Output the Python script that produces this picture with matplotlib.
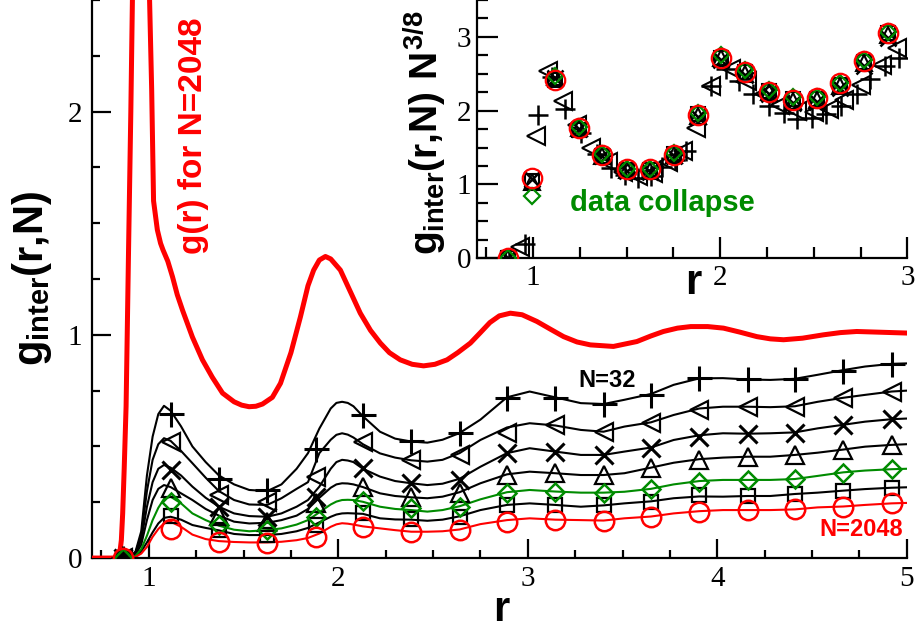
import matplotlib
matplotlib.use("Agg")
import matplotlib.pyplot as plt
from matplotlib.ticker import MultipleLocator

plt.rcParams['mathtext.fontset'] = 'custom'
plt.rcParams['mathtext.rm'] = 'Liberation Sans:bold'
plt.rcParams['mathtext.it'] = 'Liberation Sans:bold'
plt.rcParams['mathtext.bf'] = 'Liberation Sans:bold'

RED = '#ff0000'
GREEN = '#008b00'

# full g(r) for N=2048
r_g = [0.70, 0.82, 0.845, 0.855, 0.862, 0.87, 0.88, 0.893, 0.905, 0.915, 0.93, 0.95,
       0.97, 0.99, 1.004, 1.015, 1.025, 1.045, 1.062, 1.075, 1.10, 1.125, 1.15, 1.178,
       1.23, 1.283, 1.335, 1.389, 1.45, 1.49, 1.529, 1.565, 1.60, 1.652, 1.695, 1.75,
       1.80, 1.84, 1.87, 1.90, 1.932, 1.96, 2.011, 2.06, 2.116, 2.17, 2.222, 2.27,
       2.327, 2.39, 2.45, 2.51, 2.574, 2.63, 2.697, 2.75, 2.80, 2.85, 2.908, 2.97,
       3.048, 3.12, 3.189, 3.26, 3.33, 3.452, 3.576, 3.65, 3.716, 3.79, 3.86, 3.95,
       4.033, 4.12, 4.209, 4.28, 4.35, 4.45, 4.56, 4.65, 4.736, 4.85, 5.0]
g_full = [0.0, 0.0, 0.01, 0.08, 0.2, 0.4, 0.68, 1.38, 2.0, 2.6, 3.2, 3.5,
          3.3, 2.85, 2.5, 2.1, 1.6, 1.47, 1.41, 1.38, 1.33, 1.26, 1.18, 1.11,
          0.99, 0.888, 0.81, 0.739, 0.70, 0.685, 0.678, 0.68, 0.69, 0.72, 0.783, 0.92,
          1.08, 1.22, 1.29, 1.335, 1.351, 1.34, 1.29, 1.20, 1.097, 1.02, 0.963, 0.92,
          0.888, 0.868, 0.861, 0.868, 0.888, 0.92, 0.963, 1.01, 1.055, 1.085, 1.097, 1.09,
          1.06, 1.025, 0.992, 0.968, 0.955, 0.948, 0.97, 0.995, 1.015, 1.03, 1.037, 1.037,
          1.03, 1.012, 0.992, 0.982, 0.978, 0.985, 1.0, 1.01, 1.015, 1.012, 1.008]

# g_inter(r,N) curves
r_line = [0.70, 0.86, 0.90, 0.93, 0.96, 0.99, 1.02, 1.05, 1.08, 1.115, 1.17, 1.23, 1.30,
          1.37, 1.45, 1.53, 1.625, 1.70, 1.78, 1.84, 1.90, 1.96, 1.99, 2.02, 2.05, 2.08,
          2.13, 2.22, 2.30, 2.385, 2.47, 2.55, 2.64, 2.75, 2.89, 3.01, 3.145, 3.28, 3.40,
          3.51, 3.65, 3.77, 3.905, 4.03, 4.16, 4.28, 4.41, 4.53, 4.665, 4.78, 4.92, 5.0]
line_32 = [0, 0, 0.003, 0.03, 0.12, 0.37, 0.544, 0.645, 0.682, 0.66, 0.59, 0.50, 0.43,
           0.37, 0.33, 0.305, 0.30, 0.33, 0.40, 0.47, 0.58, 0.67, 0.695, 0.70, 0.695, 0.68,
           0.635, 0.566, 0.535, 0.522, 0.517, 0.53, 0.56, 0.62, 0.72, 0.746, 0.72, 0.694, 0.69,
           0.709, 0.735, 0.776, 0.805, 0.806, 0.80, 0.798, 0.803, 0.821, 0.842, 0.858, 0.87, 0.872]
line_64 = [0, 0, 0.003, 0.025, 0.10, 0.30, 0.44, 0.51, 0.537, 0.525, 0.48, 0.425, 0.36,
           0.30, 0.26, 0.24, 0.238, 0.268, 0.31, 0.34, 0.47, 0.53, 0.552, 0.559, 0.553, 0.54,
           0.51, 0.469, 0.45, 0.438, 0.432, 0.44, 0.47, 0.529, 0.585, 0.604, 0.594, 0.574, 0.566,
           0.589, 0.608, 0.641, 0.67, 0.678, 0.678, 0.676, 0.68, 0.70, 0.718, 0.731, 0.746, 0.75]
line_128 = [0, 0, 0.003, 0.02, 0.08, 0.23, 0.34, 0.40, 0.417, 0.405, 0.37, 0.32, 0.27,
            0.23, 0.20, 0.188, 0.185, 0.20, 0.23, 0.26, 0.32, 0.40, 0.43, 0.44, 0.437, 0.43,
            0.40, 0.365, 0.345, 0.335, 0.327, 0.333, 0.355, 0.409, 0.47, 0.492, 0.477, 0.462, 0.462,
            0.477, 0.495, 0.529, 0.55, 0.559, 0.557, 0.559, 0.563, 0.581, 0.597, 0.611, 0.622, 0.625]
line_256 = [0, 0, 0.002, 0.015, 0.06, 0.17, 0.26, 0.31, 0.327, 0.318, 0.29, 0.26, 0.22,
            0.19, 0.163, 0.155, 0.158, 0.17, 0.19, 0.22, 0.27, 0.315, 0.33, 0.335, 0.334, 0.33,
            0.318, 0.29, 0.278, 0.272, 0.268, 0.275, 0.295, 0.335, 0.375, 0.387, 0.38, 0.372, 0.372,
            0.38, 0.405, 0.427, 0.443, 0.45, 0.454, 0.454, 0.462, 0.472, 0.486, 0.499, 0.507, 0.51]
line_512 = [0, 0, 0.001, 0.01, 0.04, 0.10, 0.17, 0.225, 0.265, 0.275, 0.245, 0.20, 0.17,
            0.145, 0.127, 0.12, 0.125, 0.133, 0.15, 0.17, 0.205, 0.24, 0.253, 0.26, 0.261, 0.26,
            0.252, 0.23, 0.22, 0.215, 0.208, 0.215, 0.232, 0.263, 0.295, 0.305, 0.298, 0.293, 0.293,
            0.297, 0.31, 0.33, 0.345, 0.35, 0.35, 0.35, 0.354, 0.368, 0.384, 0.392, 0.398, 0.40]
line_1024 = [0, 0, 0.001, 0.008, 0.03, 0.07, 0.115, 0.155, 0.18, 0.185, 0.172, 0.148, 0.135,
             0.124, 0.108, 0.103, 0.103, 0.108, 0.12, 0.135, 0.16, 0.185, 0.195, 0.20, 0.201, 0.20,
             0.198, 0.178, 0.173, 0.172, 0.167, 0.172, 0.187, 0.215, 0.238, 0.245, 0.238, 0.23, 0.236,
             0.245, 0.254, 0.268, 0.276, 0.275, 0.278, 0.278, 0.287, 0.293, 0.302, 0.309, 0.315, 0.317]
line_2048 = [0, 0, 0.0, 0.005, 0.02, 0.05, 0.095, 0.13, 0.155, 0.163, 0.14, 0.105, 0.085,
             0.076, 0.072, 0.07, 0.07, 0.073, 0.08, 0.09, 0.11, 0.14, 0.151, 0.156, 0.154, 0.15,
             0.142, 0.133, 0.125, 0.118, 0.118, 0.12, 0.128, 0.152, 0.17, 0.178, 0.172, 0.17, 0.168,
             0.178, 0.186, 0.20, 0.21, 0.215, 0.215, 0.215, 0.218, 0.227, 0.231, 0.238, 0.245, 0.247]

# symbols on the curves
r_mark = [0.865, 1.115, 1.37, 1.625, 1.88, 2.13, 2.385, 2.64, 2.89, 3.145, 3.40, 3.65,
          3.905, 4.16, 4.41, 4.665, 4.92]
mark_32 = [0, 0.645, 0.355, 0.305, 0.49, 0.64, 0.526, 0.559, 0.716, 0.716, 0.691, 0.731,
           0.805, 0.80, 0.803, 0.84, 0.87]
mark_64 = [0, 0.522, 0.283, 0.25, 0.365, 0.522, 0.44, 0.462, 0.559, 0.596, 0.566, 0.604,
           0.664, 0.678, 0.678, 0.716, 0.746]
mark_128 = [0, 0.395, 0.23, 0.185, 0.275, 0.402, 0.335, 0.35, 0.469, 0.477, 0.462, 0.492,
            0.544, 0.555, 0.562, 0.596, 0.622]
mark_256 = [0, 0.312, 0.19, 0.163, 0.245, 0.32, 0.275, 0.29, 0.372, 0.38, 0.372, 0.402,
            0.44, 0.454, 0.462, 0.484, 0.507]
mark_512 = [0, 0.252, 0.148, 0.126, 0.185, 0.257, 0.223, 0.23, 0.293, 0.297, 0.293, 0.309,
            0.342, 0.35, 0.353, 0.383, 0.398]
mark_1024 = [0, 0.19, 0.126, 0.103, 0.148, 0.20, 0.173, 0.185, 0.238, 0.238, 0.238, 0.253,
             0.283, 0.278, 0.287, 0.302, 0.315]
mark_2048 = [0, 0.129, 0.073, 0.069, 0.096, 0.14, 0.118, 0.126, 0.163, 0.17, 0.167, 0.185,
             0.208, 0.215, 0.218, 0.23, 0.245]

# inset: g_inter(r,N) N^(3/8)
r_in = [0.865, 0.995, 1.12, 1.245, 1.37, 1.50, 1.625, 1.755, 1.88, 2.005, 2.135, 2.26,
        2.39, 2.515, 2.64, 2.77, 2.895]
in_2048 = [0.0, 1.09, 2.41, 1.76, 1.40, 1.21, 1.21, 1.40, 1.94, 2.72, 2.52, 2.25, 2.15, 2.17, 2.37, 2.67, 3.05]
in_1024 = [0.0, 1.05, 2.42, 1.74, 1.38, 1.19, 1.19, 1.41, 1.95, 2.71, 2.53, 2.27, 2.16, 2.16, 2.35, 2.66, 3.05]
in_512 = [0.0, 0.84, 2.47, 1.78, 1.41, 1.21, 1.21, 1.43, 1.97, 2.75, 2.55, 2.28, 2.18, 2.19, 2.38, 2.69, 3.07]
in_256 = [0.0, 1.04, 2.45, 1.76, 1.39, 1.19, 1.18, 1.40, 1.93, 2.71, 2.50, 2.25, 2.13, 2.15, 2.34, 2.64, 3.03]
in_128 = [0.0, 1.07, 2.44, 1.75, 1.38, 1.18, 1.17, 1.39, 1.92, 2.69, 2.49, 2.22, 2.11, 2.12, 2.31, 2.61, 2.99]
r_in_64 = [0.93, 1.019, 1.081, 1.161, 1.235, 1.312, 1.40, 1.48, 1.56, 1.64, 1.72, 1.80, 1.871,
           1.951, 2.058, 2.146, 2.235, 2.32, 2.41, 2.50, 2.58, 2.66, 2.75, 2.865, 2.945]
in_64 = [0.15, 1.655, 2.54, 2.13, 1.80, 1.49, 1.30, 1.17, 1.12, 1.16, 1.30, 1.45, 1.77,
         2.34, 2.56, 2.40, 2.22, 2.08, 2.00, 1.98, 2.02, 2.15, 2.35, 2.62, 2.85]
r_in_32 = [0.87, 0.957, 1.027, 1.10, 1.17, 1.259, 1.34, 1.419, 1.49, 1.56, 1.63, 1.69, 1.76,
           1.818, 1.951, 2.03, 2.10, 2.173, 2.262, 2.342, 2.413, 2.492, 2.564, 2.643, 2.732,
           2.803, 2.883, 2.954]
in_32 = [0.0, 0.2, 1.94, 2.45, 2.02, 1.70, 1.42, 1.22, 1.13, 1.09, 1.12, 1.24, 1.33,
         1.45, 2.34, 2.56, 2.40, 2.22, 2.06, 1.97, 1.89, 1.90, 1.95, 2.07, 2.23, 2.43, 2.61, 2.71]

# styles: (line, marks, marker, color, size, edge width)
main_series = [
    (line_32, mark_32, '+', 'black', 18, 2.2),
    (line_64, mark_64, '<', 'black', 13, 1.6),
    (line_128, mark_128, 'x', 'black', 13, 2.2),
    (line_256, mark_256, '^', 'black', 12.5, 1.6),
    (line_1024, mark_1024, 's', 'black', 9.5, 1.6),
    (line_512, mark_512, 'D', GREEN, 8.7, 1.8),
    (line_2048, mark_2048, 'o', RED, 14, 1.8),
]
inset_series = [
    (r_in_32, in_32, '+', 'black', 15, 1.8),
    (r_in_64, in_64, '<', 'black', 13, 1.5),
    (r_in, in_128, 'x', 'black', 11, 1.8),
    (r_in, in_256, '^', 'black', 11, 1.5),
    (r_in, in_1024, 's', 'black', 10, 1.5),
    (r_in, in_512, 'D', GREEN, 8, 1.6),
    (r_in, in_2048, 'o', RED, 14, 1.6),
]

fig = plt.figure(figsize=(9.18, 6.32), dpi=100)
ax = fig.add_axes([0.1002, 0.117, 0.8875, 0.883])

ax.plot(r_g, g_full, color=RED, lw=3.6, zorder=3)
for line, marks, m, c, ms, mew in main_series:
    ax.plot(r_line, line, color=c, lw=1.5, zorder=2)
    ax.plot(r_mark, marks, ls='none', marker=m, ms=ms, mew=mew, mec=c,
            mfc='none', zorder=4)


def style_axes(a):
    for side in ('top', 'right'):
        a.spines[side].set_visible(False)
    for side in ('left', 'bottom'):
        a.spines[side].set_linewidth(1.6)
    a.xaxis.set_major_locator(MultipleLocator(1))
    a.xaxis.set_minor_locator(MultipleLocator(0.25))
    a.yaxis.set_major_locator(MultipleLocator(1))
    a.yaxis.set_minor_locator(MultipleLocator(0.25))
    a.tick_params(which='both', direction='in', top=False, right=False, width=1.6)
    a.tick_params(which='major', length=14)
    a.tick_params(which='minor', length=6)
    for lab in a.get_xticklabels() + a.get_yticklabels():
        lab.set_fontfamily('Liberation Serif')
        lab.set_fontsize(21)


ax.set_xlim(0.7, 5)
ax.set_ylim(0, 2.5)
style_axes(ax)
ax.tick_params(axis='x', which='major', pad=6)
ax.tick_params(axis='y', which='major', pad=7)

fig.text(0.0349, 0.56, r'$g_{inter}(r{,}N)$', rotation=90, fontsize=30,
         ha='center', va='center')
fig.text(0.546, 0.035, 'r', fontsize=30, fontweight='bold',
         family='Liberation Sans', ha='center', va='center')

ax.text(1.236, 1.89, 'g(r) for N=2048', rotation=90, color=RED, fontsize=24,
        fontweight='bold', family='Liberation Sans', ha='center', va='center')
ax.text(3.419, 0.794, 'N=32', color='black', fontsize=17, fontweight='bold',
        family='Liberation Sans', ha='center', va='center')
ax.text(4.759, 0.126, 'N=2048', color=RED, fontsize=17, fontweight='bold',
        family='Liberation Sans', ha='center', va='center')

# inset
axi = fig.add_axes([0.5193, 0.5913, 0.4691, 0.4087])
for rr, vals, m, c, ms, mew in inset_series:
    axi.plot(rr, vals, ls='none', marker=m, ms=ms, mew=mew, mec=c,
             mfc='none', zorder=3)
axi.set_xlim(0.7, 3)
axi.set_ylim(0, 3.5)
style_axes(axi)
axi.tick_params(which='major', length=15)
axi.tick_params(which='minor', length=8)
axi.tick_params(axis='x', which='major', pad=5)
axi.tick_params(axis='y', which='major', pad=4)
axi.text(1.692, 0.75, 'data collapse', color=GREEN, fontsize=21, fontweight='bold',
         family='Liberation Sans', ha='center', va='center')

fig.text(0.463, 0.79, r'$g_{inter}(r{,}N)\ N^{3/8}$', rotation=90, fontsize=28,
         ha='center', va='center')
fig.text(0.755, 0.552, 'r', fontsize=30, fontweight='bold',
         family='Liberation Sans', ha='center', va='center')

fig.savefig('out.png', dpi=100)
